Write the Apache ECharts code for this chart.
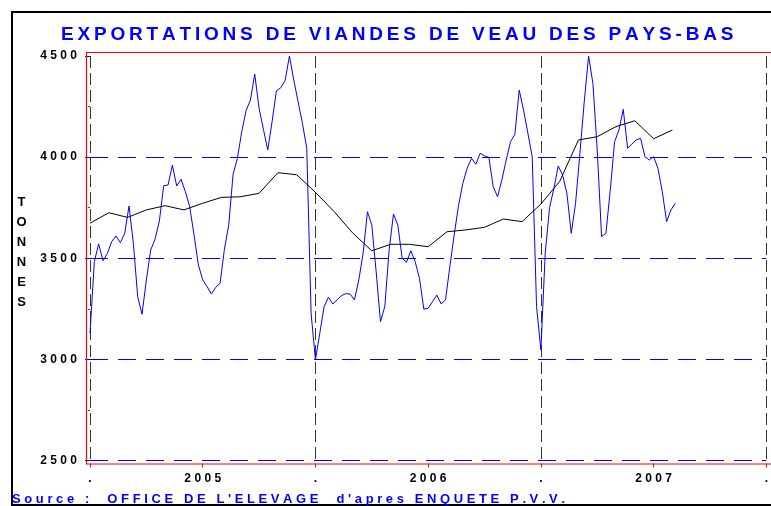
<!DOCTYPE html>
<html>
<head>
<meta charset="utf-8">
<script src="https://cdn.jsdelivr.net/npm/echarts@6/dist/echarts.min.js"></script>
<style>
  html, body { margin: 0; padding: 0; background: #fff; }
  #main { width: 771px; height: 506px; }
</style>
</head>
<body>
<div id="main"></div>
<script>
var titleText = 'EXPORTATIONS DE VIANDES DE VEAU DES PAYS-BAS';
var sourceText = "Source :  OFFICE DE L'ELEVAGE  d'apres ENQUETE P.V.V.";
var yearLabels = ['2005', '2006', '2007'];
var weeksPerYear = 52;

// weekly exports (tonnes), week 1 of 2005 onward
var weeklyTonnes = [
    3130, 3483, 3571, 3488, 3524, 3582, 3610, 3577, 3623, 3758, 3574, 3310, 3223,
    3393, 3541, 3594, 3684, 3859, 3862, 3960, 3857, 3890, 3829, 3755, 3615, 3467,
    3393, 3360, 3323, 3356, 3376, 3544, 3664, 3915, 3994, 4126, 4230, 4282, 4410,
    4241, 4138, 4035, 4175, 4328, 4343, 4378, 4500, 4381, 4274, 4167, 4044, 3228,
    2997, 3129, 3261, 3307, 3274, 3294, 3315, 3325, 3323, 3294, 3393, 3525, 3730,
    3664, 3434, 3186, 3261, 3541, 3719, 3664, 3500, 3480, 3537, 3483, 3400, 3248,
    3253, 3285, 3318, 3274, 3294, 3459, 3615, 3760, 3871, 3945, 3994, 3965, 4019,
    4006, 3999, 3854, 3804, 3887, 3986, 4076, 4113, 4332, 4233, 4118, 4002, 3261,
    3047, 3525, 3750, 3846, 3956, 3912, 3821, 3623, 3772, 4019, 4274, 4500, 4365,
    4035, 3607, 3623, 3836, 4076, 4134, 4236, 4044, 4065, 4085, 4093, 4002, 3986,
    4002, 3945, 3829, 3681, 3739, 3772
];

// 12-month moving average, one value per month from Jan 2005
var monthlyAvg = [
    3673, 3725, 3702, 3739, 3760, 3739, 3772, 3801, 3804, 3821, 3923, 3913,
    3826, 3730, 3623, 3537, 3569, 3569, 3557, 3631, 3640, 3653, 3694, 3681,
    3768, 3880, 4085, 4101, 4151, 4180, 4091, 4134
];

function spread(s, sep) {
    return s.split('').join(sep || '\u2009');
}

var myChart = echarts.init(document.getElementById('main'));
var option = {
    animation: false,
    backgroundColor: '#fff',
    textStyle: { fontFamily: 'Liberation Sans, Arial, sans-serif' },
    title: [
        {
            text: spread(titleText),
            left: 61,
            top: 25,
            padding: 0,
            textStyle: { color: '#0000ff', fontSize: 19, fontWeight: 'bold' }
        },
        {
            text: spread(sourceText, ' '),
            left: 12,
            top: 493,
            padding: 0,
            textStyle: { color: '#0000ff', fontSize: 13, fontWeight: 'bold' }
        }
    ],
    graphic: [
        {
            type: 'rect',
            shape: { x: 12, y: 12, width: 800, height: 493 },
            style: { fill: null, stroke: '#000', lineWidth: 2 },
            silent: true
        },
        {
            type: 'rect',
            shape: { x: 86.5, y: 52.5, width: 800, height: 411.5 },
            style: { fill: null, stroke: '#ff0000', lineWidth: 1.2 },
            silent: true,
            z: 10
        },
        {
            type: 'text',
            style: {
                text: 'T\nO\nN\nN\nE\nS',
                x: 21.5,
                y: 192,
                align: 'center',
                verticalAlign: 'top',
                lineHeight: 20,
                fill: '#000',
                font: 'bold 13px Liberation Sans, Arial, sans-serif'
            }
        }
    ],
    grid: {
        left: 90,
        right: 0,
        top: 56,
        bottom: 45.5
    },
    xAxis: {
        type: 'value',
        min: 0,
        max: weeksPerYear * 3,
        interval: weeksPerYear / 2,
        offset: 3,
        axisLine: { show: false },
        axisTick: { length: 4, lineStyle: { color: '#ff0000' } },
        axisLabel: {
            margin: 9,
            color: '#000',
            fontSize: 12,
            fontWeight: 'bold',
            formatter: function (v) {
                if (v % weeksPerYear === weeksPerYear / 2) {
                    return spread(yearLabels[(v - weeksPerYear / 2) / weeksPerYear], ' ');
                }
                return '.';
            }
        },
        splitLine: {
            show: true,
            showMinLine: true,
            lineStyle: { color: ['#333', 'rgba(0,0,0,0)'], type: [12, 5], width: 1 }
        }
    },
    yAxis: {
        type: 'value',
        min: 2500,
        max: 4500,
        interval: 500,
        offset: 4,
        axisLine: { show: false },
        axisTick: { length: 5, lineStyle: { color: '#0000ff' } },
        minorTick: { show: true, splitNumber: 2, length: 2, lineStyle: { color: '#ff0000' } },
        axisLabel: {
            margin: 9,
            color: '#000',
            fontSize: 12,
            fontWeight: 'bold',
            formatter: function (v) { return spread(String(v), ' '); }
        },
        splitLine: {
            show: true,
            showMaxLine: false,
            lineStyle: { color: '#0000ff', type: [18, 10], width: 1 }
        }
    },
    series: [
        {
            name: 'hebdo',
            type: 'line',
            showSymbol: false,
            lineStyle: { color: '#0000ff', width: 1 },
            data: weeklyTonnes.map(function (v, i) { return [i, v]; })
        },
        {
            name: 'moyenne',
            type: 'line',
            showSymbol: false,
            lineStyle: { color: '#000', width: 1 },
            data: monthlyAvg.map(function (v, m) { return [m * weeksPerYear / 12, v]; })
        }
    ]
};
myChart.setOption(option);
</script>
</body>
</html>
